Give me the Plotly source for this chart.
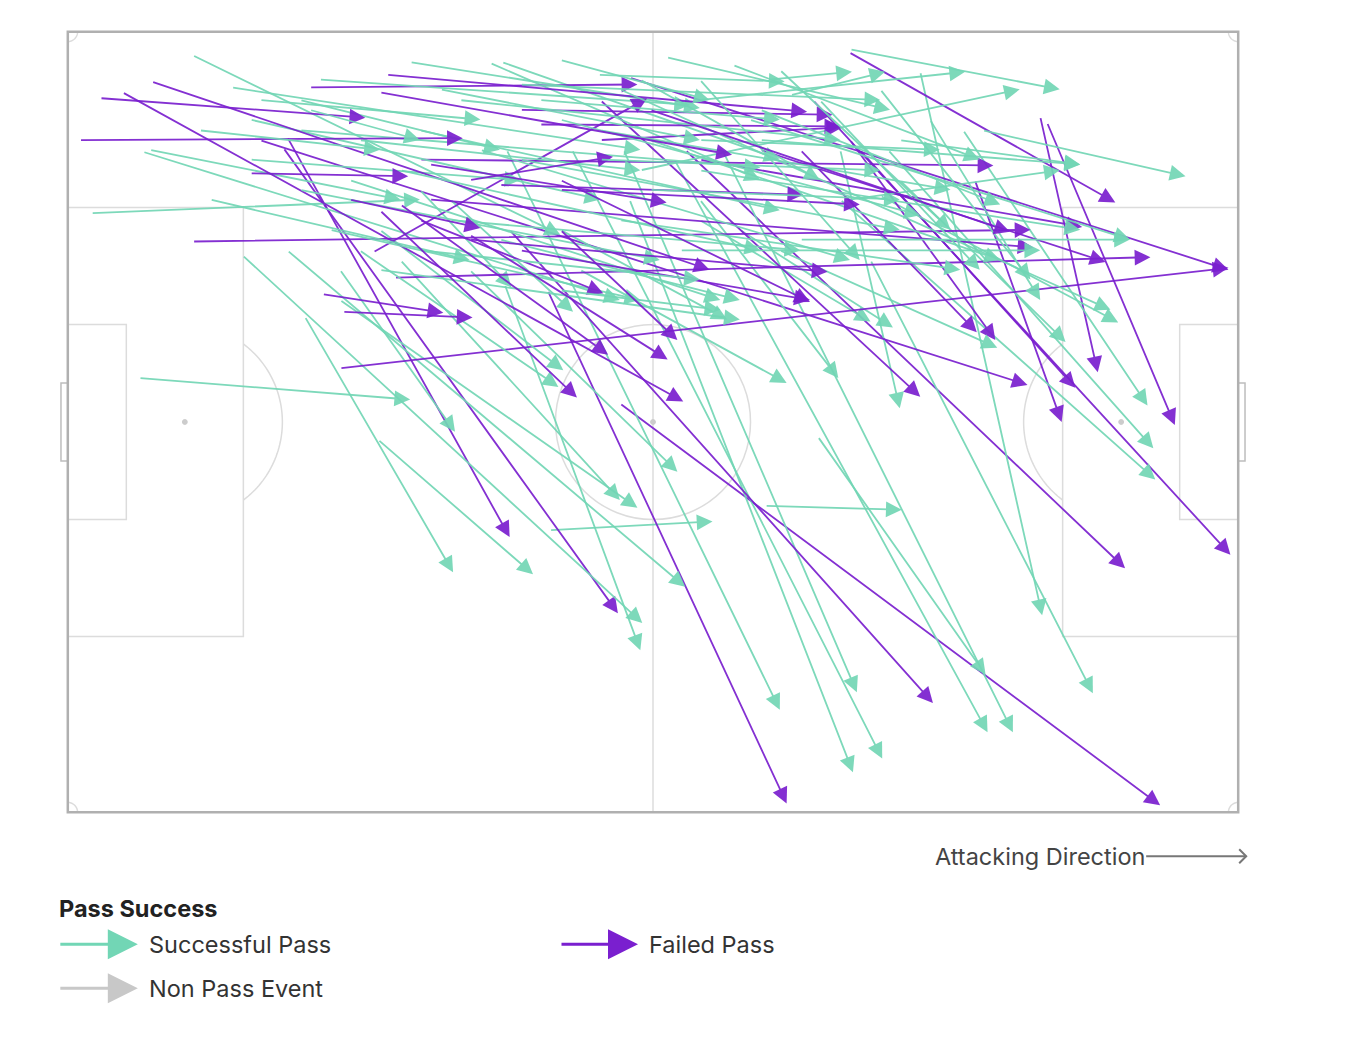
import numpy as np
import plotly.graph_objects as go

# ---------------- data (StatsBomb pitch units: 120 x 80, y from top) ----------------
succ_x = [7.3, 24.3, 31.8, 49.4, 71.5, 45.0, 57.6, 57.0, 51.7, 62.2, 67.1, 76.9, 87.4, 82.3, 44.8,
          17.9, 22.5, 41.2, 34.1, 27.9, 27.9, 79.2, 64.8, 68.9, 64.8, 79.2, 84.1, 91.8, 83.3, 85.3,
          73.0, 52.5, 50.5, 39.2, 36.1, 32.0, 29.9, 12.8, 7.7, 2.4, 16.8, 80.2, 64.8, 58.7, 93.8,
          61.4, 54.4, 43.3, 44.5, 68.2, 72.0, 74.1, 35.1, 25.8, 23.8, 36.1, 18.7, 8.4, 18.7, 29.9,
          23.8, 40.2, 46.4, 50.5, 54.6, 59.7, 64.8, 69.9, 56.6, 46.4, 42.3, 34.1, 28.9, 23.8, 39.2,
          32.0, 44.3, 56.6, 62.8, 75.1, 80.2, 85.3, 71.0, 50.5, 58.7, 64.8, 73.0, 77.1, 83.3, 88.4,
          14.6, 26.9, 36.1, 50.5, 24.8, 13.5, 19.7, 38.2, 48.4, 54.6, 59.7, 64.8, 71.0]
succ_y = [35.5, 29.2, 41.8, 51.1, 48.6, 12.1, 17.2, 12.1, 12.1, 13.1, 12.1, 41.5, 4.1, 23.4, 25.9,
          22.9, 22.4, 24.4, 23.4, 27.5, 24.4, 12.1, 19.3, 20.3, 17.2, 17.2, 12.1, 10.1, 16.8, 15.2,
          22.4, 24.4, 20.3, 17.2, 16.2, 20.3, 22.4, 2.4, 12.3, 18.6, 5.7, 1.8, 7.0, 14.2, 10.1,
          2.6, 4.4, 3.2, 3.1, 3.4, 4.9, 6.5, 3.1, 4.9, 7.0, 10.1, 9.0, 12.1, 13.1, 11.1,
          10.1, 7.0, 5.4, 9.0, 10.1, 11.1, 14.2, 9.0, 5.9, 13.1, 12.1, 14.2, 15.2, 16.2, 19.3,
          24.4, 21.3, 19.3, 22.4, 21.3, 17.2, 11.1, 8.0, 2.9, 4.9, 4.9, 3.9, 7.0, 5.9, 9.0,
          17.2, 20.3, 22.4, 26.5, 8.0, 10.1, 7.0, 5.9, 7.0, 13.1, 16.2, 11.1, 11.1]
succ_end_x = [35.1, 39.5, 47.7, 66.1, 85.5, 73.0, 80.5, 80.9, 83.5, 94.3, 96.9, 94.1, 99.9, 105.1, 58.7,
              58.9, 63.3, 62.5, 56.6, 58.4, 39.7, 85.3, 82.3, 84.6, 79.0, 111.5, 111.3, 110.7, 107.7, 102.3,
              95.3, 73.7, 67.6, 51.8, 45.5, 50.8, 50.3, 50.5, 56.6, 36.1, 58.7, 101.7, 92.0, 97.6, 114.6,
              84.3, 73.5, 71.0, 73.0, 93.5, 80.4, 83.8, 64.8, 63.8, 44.3, 73.0, 54.6, 34.1, 46.4, 58.7,
              71.0, 79.2, 83.3, 87.4, 90.5, 95.6, 103.8, 108.9, 106.9, 85.3, 80.2, 71.0, 66.9, 60.7, 75.1,
              68.9, 68.9, 91.5, 99.7, 108.9, 101.7, 103.8, 95.6, 65.8, 77.1, 81.2, 90.5, 93.5, 98.7, 99.7,
              41.2, 58.7, 64.8, 66.9, 36.1, 32.0, 42.3, 64.8, 73.0, 83.3, 85.3, 89.4, 103.8]
succ_end_y = [37.7, 55.4, 55.6, 50.2, 49.0, 69.5, 75.9, 67.7, 74.5, 71.8, 71.8, 65.9, 59.8, 67.8, 63.4,
              60.6, 56.9, 45.1, 48.0, 48.8, 41.0, 38.6, 29.7, 30.3, 35.5, 45.9, 42.7, 38.3, 29.8, 31.8,
              32.4, 36.0, 29.5, 28.7, 26.2, 34.7, 36.4, 20.8, 27.5, 17.2, 12.1, 5.9, 4.1, 5.9, 14.8,
              8.0, 5.1, 15.2, 13.1, 13.1, 4.1, 4.1, 7.8, 7.5, 12.1, 18.3, 17.2, 17.2, 15.2, 14.2,
              13.9, 11.1, 7.0, 18.8, 16.2, 23.4, 20.3, 21.3, 28.5, 20.3, 23.4, 22.4, 27.5, 23.4, 22.4,
              29.5, 27.5, 24.4, 22.4, 21.3, 14.2, 13.6, 17.7, 7.0, 15.2, 23.4, 20.3, 24.4, 25.4, 27.5,
              23.4, 27.5, 25.4, 28.5, 11.1, 12.1, 9.0, 11.1, 9.0, 14.2, 17.2, 12.1, 13.6]

fail_x = [56.6, 49.2, 22.5, 22.1, 63.3, 76.4, 45.3, 99.7, 100.4, 93.0, 81.2, 19.7, 54.6, 75.1, 80.2,
          57.6, 27.9, 33.5, 80.1, 36.1, 12.8, 37.1, 71.0, 64.8, 48.4, 24.8, 31.3, 32.7, 46.4, 54.6,
          1.2, 3.3, 8.6, 5.6, 32.0, 18.7, 26.1, 28.2, 41.2, 37.1, 44.3, 50.5, 28.9, 41.2, 46.4,
          36.1, 34.1, 41.2, 32.0, 50.5, 50.5, 59.7]
fail_y = [38.1, 26.5, 10.8, 11.9, 12.1, 7.0, 20.3, 8.7, 9.3, 15.2, 12.1, 11.1, 7.0, 12.1, 11.1,
          4.7, 34.5, 25.2, 2.1, 13.1, 21.5, 17.2, 12.1, 13.1, 9.5, 5.7, 22.6, 4.4, 8.0, 11.1,
          11.1, 6.8, 5.1, 6.2, 6.2, 14.5, 26.9, 28.7, 15.2, 13.6, 15.7, 16.2, 17.2, 21.3, 22.4,
          19.3, 17.7, 20.8, 18.3, 20.3, 15.2, 8.0]
fail_end_x = [112.0, 73.7, 45.3, 56.4, 108.4, 119.2, 88.7, 105.6, 113.5, 101.9, 103.3, 98.4, 87.4, 93.2, 95.1,
              119.0, 119.0, 111.0, 107.4, 94.9, 98.7, 99.0, 106.4, 104.0, 79.2, 58.4, 59.4, 75.8, 78.4, 79.4,
              40.5, 30.5, 65.8, 63.1, 68.1, 34.9, 38.5, 41.5, 55.9, 61.4, 75.4, 81.2, 42.3, 77.9, 76.1,
              54.9, 55.4, 61.5, 52.2, 62.5, 76.1, 96.6]
fail_end_y = [79.3, 79.1, 51.8, 59.6, 55.0, 53.6, 68.8, 34.9, 40.3, 40.0, 36.5, 36.2, 37.4, 30.8, 31.6,
              24.4, 24.2, 23.1, 17.5, 13.7, 20.3, 22.1, 23.6, 20.0, 9.7, 5.4, 6.8, 8.2, 8.5, 9.8,
              10.9, 8.8, 24.4, 37.9, 12.6, 14.8, 28.8, 29.3, 12.8, 17.5, 16.7, 17.7, 20.1, 24.6, 27.5,
              26.8, 33.1, 33.6, 37.5, 31.6, 27.7, 20.5]

legend_title = "Pass Success"
legend_labels = ["Successful Pass", "Failed Pass", "Non Pass Event"]
direction_label = "Attacking Direction"

# ---------------- styles ----------------
TEAL = "#72d6b5"
PURPLE = "#7a1fcf"
GREY = "#c8c8c8"
LINE = "#dcdcdc"
BORDER = "#b0b0b0"
FONT = "Inter"
TXT = 23.5

W, H = 1356, 1022
ML, MT = 52.2, 16.2
PW, PH = 1185.6, 795.6

fig = go.Figure()
fig.add_trace(go.Scatter(x=[0, 120], y=[0, 80], mode="markers", marker=dict(opacity=0),
                         hoverinfo="skip", showlegend=False))

# ---------------- pitch ----------------
def rect(x0, y0, x1, y1, color=LINE, width=1.5):
    fig.add_shape(type="rect", x0=x0, y0=y0, x1=x1, y1=y1, xref="x", yref="y",
                  line=dict(color=color, width=width), layer="below")

def path_pts(pts, color=LINE, width=1.5):
    d = "M " + " L ".join(f"{px:.3f},{py:.3f}" for px, py in pts)
    fig.add_shape(type="path", path=d, xref="x", yref="y",
                  line=dict(color=color, width=width), layer="below")

rect(0, 18, 18, 62)
rect(102, 18, 120, 62)
rect(0, 30, 6, 50)
rect(114, 30, 120, 50)
fig.add_shape(type="line", x0=60, x1=60, y0=0, y1=80, xref="x", yref="y",
              line=dict(color=LINE, width=1.5), layer="below")
fig.add_shape(type="circle", x0=50, x1=70, y0=30, y1=50, xref="x", yref="y",
              line=dict(color=LINE, width=1.5), layer="below")
for cx in (12, 60, 108):
    fig.add_shape(type="circle", x0=cx - 0.25, x1=cx + 0.25, y0=39.75, y1=40.25, xref="x", yref="y",
                  line=dict(color="#cccccc", width=1), fillcolor="#cccccc", layer="below")
t = np.linspace(-np.arccos(0.6), np.arccos(0.6), 60)
path_pts(list(zip(12 + 10 * np.cos(t), 40 + 10 * np.sin(t))))
path_pts(list(zip(108 - 10 * np.cos(t), 40 + 10 * np.sin(t))))
q = np.linspace(0, np.pi / 2, 20)
path_pts(list(zip(np.cos(q), np.sin(q))))
path_pts(list(zip(120 - np.cos(q), np.sin(q))))
path_pts(list(zip(np.cos(q), 80 - np.sin(q))))
path_pts(list(zip(120 - np.cos(q), 80 - np.sin(q))))
rect(-0.7, 36, 0, 44, color="#bdbdbd", width=1.5)
rect(120, 36, 120.7, 44, color="#bdbdbd", width=1.5)
rect(0, 0, 120, 80, color=BORDER, width=2.5)

# ---------------- passes ----------------
succ = list(zip(succ_x, succ_y, succ_end_x, succ_end_y))
fail = list(zip(fail_x, fail_y, fail_end_x, fail_end_y))
order = []
i = j = 0
while i < len(succ) or j < len(fail):
    for _ in range(2):
        if i < len(succ):
            order.append((succ[i], TEAL)); i += 1
    if j < len(fail):
        order.append((fail[j], PURPLE)); j += 1

for (sx, sy, ex, ey), col in order:
    fig.add_annotation(x=ex, y=ey, ax=sx, ay=sy, xref="x", yref="y", axref="x", ayref="y",
                       text="", showarrow=True, arrowhead=2, arrowsize=1.75, arrowwidth=1.8,
                       arrowcolor=col, standoff=0, opacity=0.92)

# ---------------- legend & direction (paper coords from screen px) ----------------
def px2paper(px, py):
    return (px - 8 - ML) / PW, 1 - (py - 8 - MT) / PH

def text(px, py, s, size=TXT, color="#333333", anchor="left"):
    x, y = px2paper(px, py)
    fig.add_annotation(x=x, y=y, xref="paper", yref="paper", text=s, showarrow=False,
                       xanchor=anchor, yanchor="middle", font=dict(family=FONT, size=size, color=color))

def legend_arrow(px0, px1, py, color):
    x, y = px2paper(px1, py)
    fig.add_annotation(x=x, y=y, xref="paper", yref="paper", ax=-(px1 - px0), ay=0, text="",
                       showarrow=True, arrowhead=2, arrowsize=2.0, arrowwidth=3, arrowcolor=color,
                       standoff=0)

text(57, 908, "<b>" + legend_title + "</b>", color="#222222")
legend_arrow(59, 138, 944, TEAL)
text(147, 944, legend_labels[0])
legend_arrow(560, 638, 944, PURPLE)
text(647, 944, legend_labels[1])
legend_arrow(59, 138, 988, GREY)
text(147, 988, legend_labels[2])

text(1147, 856, direction_label, color="#444444", anchor="right")
ax0, ay0 = px2paper(1146, 856)
ax1, _ = px2paper(1246, 856)
fig.add_shape(type="line", x0=ax0, x1=ax1, y0=ay0, y1=ay0, xref="paper", yref="paper",
              line=dict(color="#777777", width=2))
c1 = px2paper(1239, 849)
c2 = px2paper(1246, 856)
c3 = px2paper(1239, 863)
fig.add_shape(type="path", path=f"M {c1[0]},{c1[1]} L {c2[0]},{c2[1]} L {c3[0]},{c3[1]}",
              xref="paper", yref="paper", line=dict(color="#777777", width=2))

fig.update_xaxes(range=[-0.8, 120.8], visible=False, showgrid=False, zeroline=False)
fig.update_yaxes(range=[80.8, -0.8], visible=False, showgrid=False, zeroline=False)
fig.update_layout(width=W, height=H, margin=dict(l=ML, t=MT, r=W - ML - PW, b=H - MT - PH),
                  plot_bgcolor="white", paper_bgcolor="white", showlegend=False,
                  font=dict(family=FONT))

fig.write_html("out.html")
